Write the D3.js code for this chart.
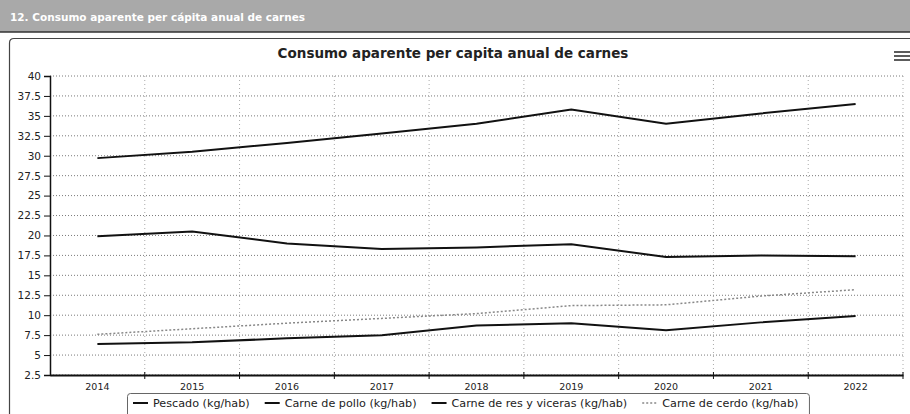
<!DOCTYPE html>
<html>
<head>
<meta charset="utf-8">
<script src="https://cdn.jsdelivr.net/npm/d3@7"></script>
<style>
  body { margin: 0; background: #fff; }
  text { font-family: "DejaVu Sans", Verdana, sans-serif; }
</style>
</head>
<body>
<div id="chart"></div>
<script>
var svgWidth = 910;
var svgHeight = 414;

// Data
var years = ["2014", "2015", "2016", "2017", "2018", "2019", "2020", "2021", "2022"];
var pescado = [6.4, 6.6, 7.1, 7.5, 8.7, 9.0, 8.1, 9.1, 9.9];
var pollo = [29.7, 30.5, 31.6, 32.8, 34.0, 35.8, 34.0, 35.3, 36.5];
var res = [19.9, 20.5, 19.0, 18.3, 18.5, 18.9, 17.3, 17.5, 17.4];
var cerdo = [7.6, 8.3, 9.0, 9.6, 10.2, 11.2, 11.3, 12.4, 13.2];
var yTicks = [2.5, 5, 7.5, 10, 12.5, 15, 17.5, 20, 22.5, 25, 27.5, 30, 32.5, 35, 37.5, 40];
var seriesNames = ["Pescado (kg/hab)", "Carne de pollo (kg/hab)", "Carne de res y viceras (kg/hab)", "Carne de cerdo (kg/hab)"];

var series = [
  { name: seriesNames[0], values: pescado, color: "#111", width: 2, dash: null },
  { name: seriesNames[1], values: pollo, color: "#111", width: 2, dash: null },
  { name: seriesNames[2], values: res, color: "#111", width: 2, dash: null },
  { name: seriesNames[3], values: cerdo, color: "#888", width: 1.5, dash: "2,2" }
];

var svg = d3.select("#chart")
  .append("svg")
  .attr("width", svgWidth)
  .attr("height", svgHeight);

// grey header band
svg.append("rect")
  .attr("x", 0).attr("y", 0)
  .attr("width", svgWidth).attr("height", 32)
  .attr("fill", "#a9a9a9");
svg.append("line")
  .attr("x1", 0).attr("x2", svgWidth)
  .attr("y1", 32).attr("y2", 32)
  .attr("stroke", "#333").attr("stroke-width", 1.5);
svg.append("text")
  .attr("x", 10).attr("y", 21)
  .attr("fill", "#fff")
  .attr("font-size", "10.5px")
  .attr("font-weight", "bold")
  .text("12. Consumo aparente per cápita anual de carnes");

// outer frame
svg.append("path")
  .attr("d", "M9.5,420 V43 Q9.5,38.5 14,38.5 H920")
  .attr("fill", "none")
  .attr("stroke", "#444")
  .attr("stroke-width", 1.2);

// chart title
svg.append("text")
  .attr("x", 453).attr("y", 58)
  .attr("text-anchor", "middle")
  .attr("font-size", "13.5px")
  .attr("font-weight", "bold")
  .attr("fill", "#222")
  .text("Consumo aparente per capita anual de carnes");

// menu icon
[52, 56, 60].forEach(function(y) {
  svg.append("line")
    .attr("x1", 894).attr("x2", 910)
    .attr("y1", y).attr("y2", y)
    .attr("stroke", "#333").attr("stroke-width", 1.6);
});

// scales
var xBand = d3.scaleBand()
  .domain(years)
  .range([50, 903]);

var yLinearScale = d3.scaleLinear()
  .domain([2.5, 40])
  .range([375, 76]);

// grid
var grid = svg.append("g");
grid.selectAll("line.h")
  .data(yTicks)
  .enter()
  .append("line")
  .attr("x1", 50).attr("x2", 903)
  .attr("y1", d => yLinearScale(d)).attr("y2", d => yLinearScale(d))
  .attr("stroke", "#7a7a7a")
  .attr("stroke-dasharray", "1,2");

grid.selectAll("line.v")
  .data(years.slice(1).concat(["end"]))
  .enter()
  .append("line")
  .attr("x1", (d, i) => xBand.range()[0] + xBand.step() * (i + 1))
  .attr("x2", (d, i) => xBand.range()[0] + xBand.step() * (i + 1))
  .attr("y1", 76).attr("y2", 375)
  .attr("stroke", "#aaa")
  .attr("stroke-dasharray", "1,3");

// axes
var leftAxis = d3.axisLeft(yLinearScale)
  .tickValues(yTicks)
  .tickSize(6)
  .tickPadding(3)
  .tickFormat(d => String(d));

var yAxis = svg.append("g")
  .attr("transform", "translate(50, 0)")
  .call(leftAxis);
yAxis.select(".domain").attr("stroke", "#111").attr("stroke-width", 1.5);
yAxis.selectAll(".tick line").attr("stroke", "#111");
yAxis.selectAll(".tick text")
  .attr("font-size", "10.5px")
  .attr("font-family", "DejaVu Sans, sans-serif")
  .attr("fill", "#222");

var bottomAxis = d3.axisBottom(xBand)
  .tickSize(0)
  .tickPadding(8);

var xAxis = svg.append("g")
  .attr("transform", "translate(0, 375)")
  .call(bottomAxis);
xAxis.select(".domain").attr("stroke", "#111").attr("stroke-width", 2);
xAxis.selectAll(".tick text")
  .attr("font-size", "9.5px")
  .attr("font-family", "DejaVu Sans, sans-serif")
  .attr("fill", "#222");

// x tick marks at band boundaries
xAxis.selectAll("line.bound")
  .data(years.slice(1).concat(["end"]))
  .enter()
  .append("line")
  .attr("x1", (d, i) => xBand.range()[0] + xBand.step() * (i + 1))
  .attr("x2", (d, i) => xBand.range()[0] + xBand.step() * (i + 1))
  .attr("y1", -3).attr("y2", 4)
  .attr("stroke", "#111");

// lines
var createLine = d3.line()
  .x((d, i) => xBand(years[i]) + xBand.bandwidth() / 2)
  .y(d => yLinearScale(d));

svg.append("g")
  .selectAll("path")
  .data(series)
  .enter()
  .append("path")
  .attr("d", d => createLine(d.values))
  .attr("fill", "none")
  .attr("stroke", d => d.color)
  .attr("stroke-width", d => d.width)
  .attr("stroke-dasharray", d => d.dash);

// legend
var legend = svg.append("g");
var legendBox = legend.append("rect")
  .attr("y", 393.5)
  .attr("height", 40)
  .attr("rx", 3)
  .attr("fill", "#fff")
  .attr("stroke", "#666")
  .attr("stroke-width", 1);

var lx = 133;
series.forEach(function(s) {
  legend.append("line")
    .attr("x1", lx).attr("x2", lx + 15)
    .attr("y1", 403).attr("y2", 403)
    .attr("stroke", s.color)
    .attr("stroke-width", s.width)
    .attr("stroke-dasharray", s.dash);
  var t = legend.append("text")
    .attr("x", lx + 20).attr("y", 407)
    .attr("font-size", "11.2px")
    .attr("fill", "#222")
    .text(s.name);
  lx = lx + 20 + t.node().getComputedTextLength() + 15;
});
legendBox.attr("x", 127.5).attr("width", lx - 127.5 - 4);
</script>
</body>
</html>
